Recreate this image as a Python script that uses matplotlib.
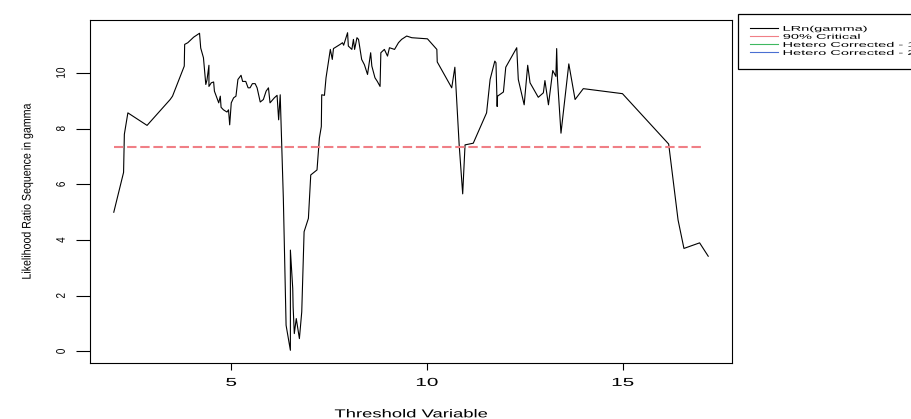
import matplotlib
matplotlib.use("Agg")
import matplotlib.pyplot as plt
from matplotlib import patheffects
from matplotlib.lines import Line2D
from matplotlib.transforms import Affine2D

# LR sequence
threshold = [2.00, 2.25, 2.27, 2.36, 2.85, 3.44, 3.50, 3.80, 3.81, 3.89, 4.04, 4.19,
             4.22, 4.29, 4.35, 4.38, 4.43, 4.43, 4.49, 4.55, 4.57, 4.66, 4.68, 4.72,
             4.74, 4.80, 4.89, 4.93, 4.96, 5.00, 5.06, 5.12, 5.17, 5.25, 5.29, 5.37,
             5.43, 5.48, 5.54, 5.61, 5.66, 5.74, 5.82, 5.89, 5.95, 5.99, 6.10, 6.17,
             6.21, 6.25, 6.33, 6.40, 6.51, 6.51, 6.57, 6.58, 6.61, 6.66, 6.74, 6.80,
             6.86, 6.97, 7.03, 7.19, 7.25, 7.30, 7.31, 7.38, 7.42, 7.53, 7.58, 7.61,
             7.78, 7.84, 7.87, 7.93, 7.97, 7.99, 8.08, 8.12, 8.15, 8.21, 8.25, 8.33,
             8.40, 8.48, 8.56, 8.59, 8.67, 8.73, 8.80, 8.82, 8.91, 8.99, 9.04, 9.17,
             9.27, 9.35, 9.48, 9.61, 10.01, 10.25, 10.26, 10.63, 10.71, 10.82, 10.91,
             10.97, 11.18, 11.52, 11.61, 11.73, 11.76, 11.79, 11.80, 11.95, 12.01,
             12.29, 12.33, 12.48, 12.57, 12.63, 12.84, 12.97, 13.01, 13.10, 13.21,
             13.29, 13.31, 13.33, 13.42, 13.62, 13.78, 13.99, 14.99, 16.17, 16.41,
             16.56, 16.96, 17.18]
lr_seq = [5.00, 6.43, 7.80, 8.57, 8.12, 9.05, 9.17, 10.25, 11.03, 11.09, 11.29, 11.43,
          10.90, 10.55, 9.59, 9.75, 10.28, 9.52, 9.65, 9.68, 9.35, 9.00, 8.93, 9.17,
          8.77, 8.68, 8.60, 8.68, 8.14, 8.93, 9.11, 9.17, 9.77, 9.92, 9.70, 9.70,
          9.47, 9.47, 9.62, 9.62, 9.47, 8.96, 9.05, 9.35, 9.47, 8.93, 9.11, 9.20,
          8.32, 9.22, 5.50, 0.94, 0.04, 3.64, 2.26, 1.60, 0.64, 1.18, 0.46, 1.42,
          4.30, 4.78, 6.34, 6.52, 7.66, 8.08, 9.22, 9.20, 9.83, 10.85, 10.49, 10.88,
          11.03, 11.09, 11.00, 11.27, 11.45, 10.97, 10.85, 11.21, 10.85, 11.27, 11.21, 10.49,
          10.30, 9.95, 10.73, 10.25, 9.83, 9.70, 9.52, 10.73, 10.85, 10.61, 10.91, 10.85,
          11.09, 11.21, 11.33, 11.27, 11.23, 10.85, 10.40, 9.47, 10.21, 7.42, 5.66,
          7.42, 7.48, 8.57, 9.77, 10.43, 10.37, 8.80, 9.17, 9.32, 10.21,
          10.91, 9.77, 8.86, 10.28, 9.65, 9.13, 9.29, 9.73, 8.86, 10.09,
          9.88, 10.88, 9.80, 7.84, 10.33, 9.05, 9.44, 9.26, 7.45, 4.72,
          3.70, 3.90, 3.42]
crit_90 = 7.36
crit_span = [2.00, 17.07]

legend_labels = ["LRn(gamma)", "90% Critical", "Hetero Corrected - 1", "Hetero Corrected - 2"]
legend_colors = ["black", "#F07F86", "#3FB860", "#4A6FD2"]


class Stretch(patheffects.AbstractPathEffect):
    """scale glyphs about their centre (or left edge); text stays text"""
    def __init__(self, sx=1.0, sy=1.0, left=False):
        super().__init__()
        self.sx, self.sy, self.left = sx, sy, left

    def draw_path(self, renderer, gc, tpath, affine, rgbFace=None):
        ext = tpath.get_extents()
        cx = ext.x0 if self.left else (ext.x0 + ext.x1) / 2
        cy = (ext.y0 + ext.y1) / 2
        st = Affine2D().translate(-cx, -cy).scale(self.sx, self.sy).translate(cx, cy)
        renderer.draw_path(gc, tpath, st + affine, rgbFace)


plt.rcParams['font.family'] = ['Liberation Sans', 'DejaVu Sans']

fig = plt.figure(figsize=(9.12, 4.19), dpi=100)
ax = fig.add_axes([90 / 912, 1 - 363 / 419, 642 / 912, 343 / 419])

ax.plot(threshold, lr_seq, color="black", lw=0.8)
ax.plot(crit_span, [crit_90, crit_90], color=legend_colors[1], lw=1.5, dashes=(4.5, 1.8))

# R style 4% padding
lo, hi = min(threshold), max(threshold)
ax.set_xlim(lo - 0.04 * (hi - lo), hi + 0.04 * (hi - lo))
lo, hi = min(lr_seq), max(lr_seq)
ax.set_ylim(lo - 0.04 * (hi - lo), hi + 0.04 * (hi - lo))

ax.set_xticks([5, 10, 15])
ax.set_yticks([0, 2, 4, 6, 8, 10])
ax.tick_params(axis="x", length=5, width=0.8, pad=5, labelsize=8.3)
ax.tick_params(axis="y", length=10, width=0.8, pad=6, labelsize=9)
for s in ax.spines.values():
    s.set_linewidth(0.8)

for lab in ax.get_xticklabels():
    lab.set_path_effects([Stretch(sx=1.8)])
for lab in ax.get_yticklabels():
    lab.set_rotation(90)
    lab.set_va("center")
    lab.set_path_effects([Stretch(sx=0.8)])

ax.set_xlabel("Threshold Variable", fontsize=8.3, labelpad=14,
              path_effects=[Stretch(sx=1.6)])
ax.set_ylabel("Likelihood Ratio Sequence in gamma", fontsize=9, labelpad=16,
              path_effects=[Stretch(sx=0.85)])

handles = [Line2D([], [], color=c, lw=0.8) for c in legend_colors]
leg = fig.legend(handles, legend_labels, loc="upper left", mode="expand",
                 bbox_to_anchor=(738 / 912, 1 - 69 / 419, 220 / 912, 55 / 419),
                 bbox_transform=fig.transFigure,
                 borderaxespad=0, fontsize=5, handlelength=4, handletextpad=0.8,
                 labelspacing=0.15, borderpad=1.7, fancybox=False, framealpha=1)
leg.get_frame().set_edgecolor("black")
leg.get_frame().set_linewidth(0.9)
for t in leg.get_texts():
    t.set_path_effects([Stretch(sx=2.1, left=True)])

fig.savefig("out.png", dpi=100)
